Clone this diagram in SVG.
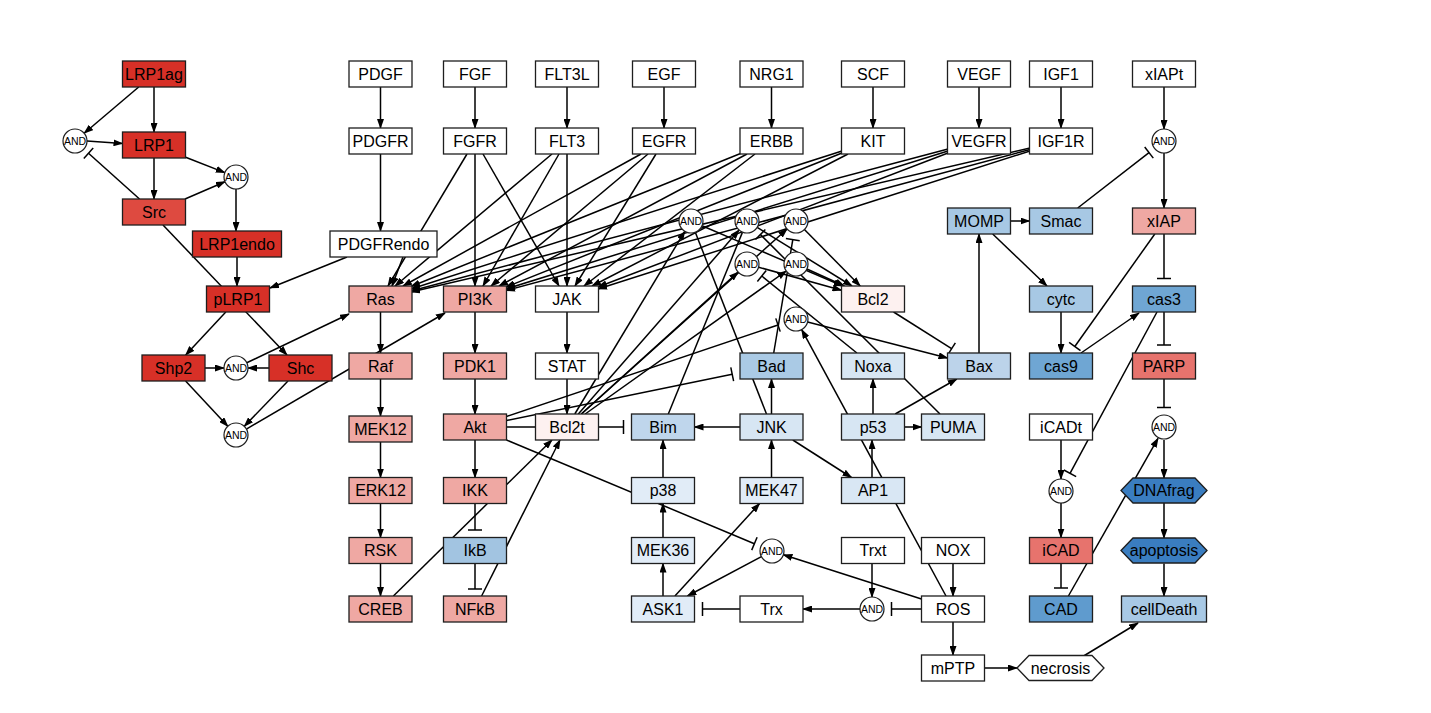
<svg xmlns="http://www.w3.org/2000/svg" width="1431" height="713" viewBox="0 0 1431 713">
<defs>
<style>
.b{stroke:#1e1e1e;stroke-width:1.3}
text{font-family:"Liberation Sans",Arial,sans-serif;font-size:16px;text-anchor:middle;fill:#000}
text.s{font-size:10.5px}
.c{fill:#fff;stroke:#1e1e1e;stroke-width:1.2}
#E line{stroke:#000;stroke-width:1.5;fill:none}
#E line.a{marker-end:url(#arr)}
#E line.t{marker-end:url(#tee)}
.w{fill:#fff}.r{fill:#d73027}.rs{fill:#de4a40}.lr{fill:#efa8a3}.mr{fill:#e7736d}.pk{fill:#fdf1f0}
.bim{fill:#bfd6ec}.bad{fill:#aacae5}.ikb{fill:#a2c4e1}.mo{fill:#a7c8e4}.c3{fill:#6fa6d3}.cad{fill:#5f9bce}
.dk{fill:#3a7dc0}.cd{fill:#a8c9e5}.bax{fill:#bcd3ea}.lb{fill:#d7e6f3}.vl{fill:#e1ecf7}.ap{fill:#d9e7f4}
</style>
<marker id="arr" viewBox="0 0 10 7" refX="9" refY="3.5" markerWidth="10" markerHeight="7" orient="auto" markerUnits="userSpaceOnUse"><path d="M0,0 L10,3.5 L0,7 z" fill="#000"/></marker>
<marker id="tee" viewBox="-2 -8 4 16" refX="0" refY="0" markerWidth="4" markerHeight="16" orient="auto" markerUnits="userSpaceOnUse"><path d="M0,-7 L0,7" stroke="#000" stroke-width="1.5"/></marker>
</defs>
<rect width="1431" height="713" fill="#fff"/>
<g id="E">
<!-- left cluster -->
<line class="a" x1="138.7" y1="87" x2="84.2" y2="133.2"/>
<line class="a" x1="154" y1="87" x2="154" y2="132"/>
<line class="a" x1="87" y1="141" x2="122.5" y2="143.5"/>
<line class="t" x1="139.5" y1="199" x2="88.5" y2="153.2"/>
<line class="a" x1="154" y1="158" x2="154" y2="199"/>
<line class="a" x1="185" y1="157" x2="224.8" y2="172.6"/>
<line class="a" x1="185" y1="199" x2="225" y2="181.7"/>
<line class="a" x1="236" y1="189" x2="236" y2="231"/>
<line class="a" x1="237" y1="257" x2="237" y2="286"/>
<line class="a" x1="163" y1="225" x2="287" y2="355"/>
<line class="a" x1="225.8" y1="312" x2="185.7" y2="355"/>
<line class="a" x1="205" y1="368" x2="224" y2="368"/>
<line class="a" x1="269" y1="368" x2="248" y2="368"/>
<line class="a" x1="246.8" y1="362.8" x2="349" y2="314"/>
<line class="a" x1="185.6" y1="381" x2="227.8" y2="426.2"/>
<line class="a" x1="288" y1="381" x2="244.3" y2="426.3"/>
<line class="a" x1="246.4" y1="429.1" x2="445" y2="313"/>
<!-- top -->
<line class="a" x1="380.5" y1="87" x2="380.5" y2="128"/>
<line class="a" x1="475" y1="87" x2="475" y2="128"/>
<line class="a" x1="567" y1="87" x2="567" y2="128"/>
<line class="a" x1="664" y1="87" x2="664" y2="128"/>
<line class="a" x1="771.5" y1="87" x2="771.5" y2="128"/>
<line class="a" x1="873" y1="87" x2="873" y2="128"/>
<line class="a" x1="979" y1="87" x2="979" y2="128"/>
<line class="a" x1="1061" y1="87" x2="1061" y2="128"/>
<line class="a" x1="1164" y1="87" x2="1164" y2="129"/>
<line class="a" x1="380.5" y1="154" x2="380.5" y2="231"/>
<line class="a" x1="403" y1="257" x2="392" y2="286"/>
<line class="a" x1="347" y1="257" x2="270" y2="288"/>
<!-- receptors -->
<line class="a" x1="467" y1="154" x2="388" y2="286"/>
<line class="a" x1="475" y1="154" x2="475" y2="286"/>
<line class="a" x1="483" y1="154" x2="559" y2="286"/>
<line class="a" x1="552" y1="154" x2="395" y2="286"/>
<line class="a" x1="559" y1="154" x2="483" y2="286"/>
<line class="a" x1="567" y1="154" x2="567" y2="286"/>
<line class="a" x1="641" y1="154" x2="403" y2="286"/>
<line class="a" x1="648" y1="154" x2="491" y2="286"/>
<line class="a" x1="656" y1="154" x2="575" y2="286"/>
<line class="a" x1="740.5" y1="153.5" x2="411" y2="286.5"/>
<line class="a" x1="747" y1="154" x2="499" y2="286"/>
<line class="a" x1="755" y1="154" x2="584" y2="286"/>
<line class="a" x1="842" y1="151" x2="411" y2="289"/>
<line class="a" x1="842" y1="153" x2="506" y2="287"/>
<line class="a" x1="848" y1="154" x2="592" y2="286"/>
<line class="a" x1="948" y1="149" x2="411" y2="291"/>
<line class="a" x1="948" y1="151" x2="506" y2="289"/>
<line class="a" x1="948" y1="153" x2="598" y2="287"/>
<line class="a" x1="1030" y1="148" x2="411" y2="292"/>
<line class="a" x1="1030" y1="149.5" x2="506" y2="290.5"/>
<line class="a" x1="1030" y1="151" x2="598" y2="289"/>
<!-- pathway columns -->
<line class="a" x1="380.5" y1="312" x2="380.5" y2="353"/>
<line class="a" x1="380.5" y1="379" x2="380.5" y2="416"/>
<line class="a" x1="380.5" y1="442" x2="380.5" y2="477.5"/>
<line class="a" x1="380.5" y1="503.5" x2="380.5" y2="537.5"/>
<line class="a" x1="380.5" y1="563.5" x2="380.5" y2="596"/>
<line class="a" x1="475" y1="312" x2="475" y2="353"/>
<line class="a" x1="475" y1="379" x2="475" y2="414"/>
<line class="a" x1="475" y1="440" x2="475" y2="477.5"/>
<line class="t" x1="475" y1="503.5" x2="475" y2="530"/>
<line class="t" x1="475" y1="563.5" x2="475" y2="589"/>
<line class="a" x1="393.4" y1="596" x2="552" y2="440"/>
<line class="a" x1="481.6" y1="596" x2="560" y2="440"/>
<line class="a" x1="567" y1="312" x2="567" y2="353"/>
<line class="a" x1="567" y1="379" x2="567" y2="414"/>
<!-- Akt -->
<line class="t" x1="506.5" y1="427" x2="623.5" y2="427"/>
<line class="t" x1="506.5" y1="420.5" x2="732.2" y2="374.2"/>
<line class="t" x1="506.5" y1="416.5" x2="778" y2="325"/>
<line class="t" x1="506.5" y1="440" x2="754.4" y2="543.7"/>
<!-- Bcl2t to ANDs -->
<line class="a" x1="574.8" y1="414" x2="684.8" y2="231.3"/>
<line class="a" x1="578.3" y1="414" x2="739.1" y2="230.1"/>
<line class="a" x1="581.4" y1="414" x2="787.1" y2="229"/>
<line class="a" x1="581.3" y1="414" x2="738.1" y2="272.1"/>
<line class="a" x1="585.2" y1="414" x2="786.2" y2="271"/>
<!-- ANDs to Bcl2 -->
<line class="a" x1="702" y1="225.7" x2="842.7" y2="286"/>
<line class="a" x1="757.2" y1="227.3" x2="852" y2="286"/>
<line class="a" x1="804.4" y1="229.5" x2="860.2" y2="286"/>
<line class="a" x1="758.6" y1="267.2" x2="841.5" y2="290.3"/>
<line class="a" x1="806.9" y1="269" x2="844.4" y2="286"/>
<!-- inhibitors of ANDs -->
<line x1="766.5" y1="414" x2="695.3" y2="232.2"/>
<line x1="668.3" y1="414" x2="742.5" y2="232.1"/>
<line class="t" x1="940" y1="414" x2="760.4" y2="234.5"/>
<line class="t" x1="773.7" y1="353" x2="792.8" y2="239.7"/>
<line class="t" x1="856.9" y1="353" x2="761.8" y2="276"/>
<!-- Bax/MOMP -->
<line class="a" x1="807.6" y1="322" x2="947.5" y2="358"/>
<line class="t" x1="893.6" y1="312" x2="951.6" y2="348.7"/>
<line class="a" x1="895.2" y1="414" x2="956.8" y2="379"/>
<line class="a" x1="979" y1="353" x2="979" y2="234"/>
<line class="a" x1="1010.5" y1="221" x2="1029.5" y2="221"/>
<line class="a" x1="992.7" y1="234" x2="1047" y2="286"/>
<line class="t" x1="1077.7" y1="208" x2="1149" y2="152.6"/>
<line class="a" x1="1164" y1="153" x2="1164" y2="208"/>
<line class="t" x1="1164" y1="234" x2="1164" y2="278.5"/>
<line class="t" x1="1154.8" y1="234" x2="1074.8" y2="346.5"/>
<line class="a" x1="1061" y1="312" x2="1061" y2="353"/>
<line class="a" x1="1081" y1="353" x2="1139" y2="313"/>
<line class="t" x1="1164" y1="312" x2="1164" y2="345"/>
<line class="t" x1="1164" y1="379" x2="1164" y2="407.5"/>
<line class="t" x1="1157" y1="312" x2="1070" y2="473.3"/>
<line class="a" x1="1061" y1="440" x2="1061" y2="479"/>
<line class="a" x1="1061" y1="503" x2="1061" y2="537.5"/>
<line class="t" x1="1061" y1="563.5" x2="1061" y2="588"/>
<line class="a" x1="1068.4" y1="596" x2="1158" y2="438.4"/>
<line class="a" x1="1164" y1="440" x2="1164" y2="478"/>
<line class="a" x1="1164" y1="503" x2="1164" y2="538"/>
<line class="a" x1="1164" y1="563.5" x2="1164" y2="596"/>
<line class="a" x1="1082" y1="657" x2="1138" y2="623"/>
<!-- lower middle -->
<line class="a" x1="984.5" y1="668" x2="1017" y2="668"/>
<line class="a" x1="953" y1="622" x2="953" y2="655"/>
<line class="a" x1="953" y1="563.5" x2="953" y2="596"/>
<line class="t" x1="921.5" y1="609" x2="891.5" y2="609"/>
<line class="a" x1="872" y1="563.5" x2="872" y2="597"/>
<line class="a" x1="860" y1="609" x2="803" y2="609"/>
<line class="t" x1="740" y1="609" x2="702.5" y2="609"/>
<line class="a" x1="921.5" y1="599" x2="783.4" y2="554.7"/>
<line class="a" x1="761.4" y1="556.6" x2="687.4" y2="596"/>
<line class="a" x1="663" y1="596" x2="663" y2="563.5"/>
<line class="a" x1="674.9" y1="596" x2="759.6" y2="503.5"/>
<line class="a" x1="663" y1="537.5" x2="663" y2="503.5"/>
<line class="a" x1="663" y1="477.5" x2="663" y2="440"/>
<line class="a" x1="771.5" y1="477.5" x2="771.5" y2="440"/>
<line class="a" x1="740" y1="427" x2="694.5" y2="427"/>
<line class="a" x1="771.5" y1="414" x2="771.5" y2="379"/>
<line class="a" x1="792.8" y1="440" x2="851.5" y2="477.5"/>
<line class="a" x1="872" y1="477.5" x2="872" y2="440"/>
<line class="a" x1="946" y1="596" x2="801.7" y2="329.6"/>
<line class="a" x1="873" y1="414" x2="873" y2="379"/>
<line class="a" x1="904.5" y1="427" x2="921.5" y2="427"/>
</g>
<g id="n-LRP1ag"><rect class="b r" x="122.5" y="61" width="63" height="26"/><text x="154" y="79.7">LRP1ag</text></g>
<g id="n-LRP1"><rect class="b r" x="122.5" y="132" width="63" height="26"/><text x="154" y="150.7">LRP1</text></g>
<g id="n-Src"><rect class="b rs" x="122.5" y="199" width="63" height="26"/><text x="154" y="217.7">Src</text></g>
<g id="n-LRP1endo"><rect class="b r" x="192.5" y="231" width="89" height="26"/><text x="237" y="249.7">LRP1endo</text></g>
<g id="n-pLRP1"><rect class="b r" x="206.5" y="286" width="63" height="26"/><text x="238" y="304.7">pLRP1</text></g>
<g id="n-Shp2"><rect class="b r" x="142" y="355" width="63" height="26"/><text x="173.5" y="373.7">Shp2</text></g>
<g id="n-Shc"><rect class="b r" x="269" y="355" width="63" height="26"/><text x="300.5" y="373.7">Shc</text></g>
<g id="n-PDGF"><rect class="b w" x="349" y="61" width="63" height="26"/><text x="380.5" y="79.7">PDGF</text></g>
<g id="n-FGF"><rect class="b w" x="443.5" y="61" width="63" height="26"/><text x="475" y="79.7">FGF</text></g>
<g id="n-FLT3L"><rect class="b w" x="535.5" y="61" width="63" height="26"/><text x="567" y="79.7">FLT3L</text></g>
<g id="n-EGF"><rect class="b w" x="632.5" y="61" width="63" height="26"/><text x="664" y="79.7">EGF</text></g>
<g id="n-NRG1"><rect class="b w" x="740" y="61" width="63" height="26"/><text x="771.5" y="79.7">NRG1</text></g>
<g id="n-SCF"><rect class="b w" x="841.5" y="61" width="63" height="26"/><text x="873" y="79.7">SCF</text></g>
<g id="n-VEGF"><rect class="b w" x="947.5" y="61" width="63" height="26"/><text x="979" y="79.7">VEGF</text></g>
<g id="n-IGF1"><rect class="b w" x="1029.5" y="61" width="63" height="26"/><text x="1061" y="79.7">IGF1</text></g>
<g id="n-xIAPt"><rect class="b w" x="1132.5" y="61" width="63" height="26"/><text x="1164" y="79.7">xIAPt</text></g>
<g id="n-PDGFR"><rect class="b w" x="349" y="128" width="63" height="26"/><text x="380.5" y="146.7">PDGFR</text></g>
<g id="n-FGFR"><rect class="b w" x="443.5" y="128" width="63" height="26"/><text x="475" y="146.7">FGFR</text></g>
<g id="n-FLT3"><rect class="b w" x="535.5" y="128" width="63" height="26"/><text x="567" y="146.7">FLT3</text></g>
<g id="n-EGFR"><rect class="b w" x="632.5" y="128" width="63" height="26"/><text x="664" y="146.7">EGFR</text></g>
<g id="n-ERBB"><rect class="b w" x="740" y="128" width="63" height="26"/><text x="771.5" y="146.7">ERBB</text></g>
<g id="n-KIT"><rect class="b w" x="841.5" y="128" width="63" height="26"/><text x="873" y="146.7">KIT</text></g>
<g id="n-VEGFR"><rect class="b w" x="947.5" y="128" width="63" height="26"/><text x="979" y="146.7">VEGFR</text></g>
<g id="n-IGF1R"><rect class="b w" x="1029.5" y="128" width="63" height="26"/><text x="1061" y="146.7">IGF1R</text></g>
<g id="n-PDGFRendo"><rect class="b w" x="330" y="231" width="107" height="26"/><text x="383.5" y="249.7">PDGFRendo</text></g>
<g id="n-MOMP"><rect class="b mo" x="947.5" y="208" width="63" height="26"/><text x="979" y="226.7">MOMP</text></g>
<g id="n-Smac"><rect class="b mo" x="1029.5" y="208" width="63" height="26"/><text x="1061" y="226.7">Smac</text></g>
<g id="n-xIAP"><rect class="b lr" x="1132.5" y="208" width="63" height="26"/><text x="1164" y="226.7">xIAP</text></g>
<g id="n-Ras"><rect class="b lr" x="349" y="286" width="63" height="26"/><text x="380.5" y="304.7">Ras</text></g>
<g id="n-PI3K"><rect class="b lr" x="443.5" y="286" width="63" height="26"/><text x="475" y="304.7">PI3K</text></g>
<g id="n-JAK"><rect class="b w" x="535.5" y="286" width="63" height="26"/><text x="567" y="304.7">JAK</text></g>
<g id="n-Bcl2"><rect class="b pk" x="841.5" y="286" width="63" height="26"/><text x="873" y="304.7">Bcl2</text></g>
<g id="n-cytc"><rect class="b mo" x="1029.5" y="286" width="63" height="26"/><text x="1061" y="304.7">cytc</text></g>
<g id="n-cas3"><rect class="b c3" x="1132.5" y="286" width="63" height="26"/><text x="1164" y="304.7">cas3</text></g>
<g id="n-Raf"><rect class="b lr" x="349" y="353" width="63" height="26"/><text x="380.5" y="371.7">Raf</text></g>
<g id="n-PDK1"><rect class="b lr" x="443.5" y="353" width="63" height="26"/><text x="475" y="371.7">PDK1</text></g>
<g id="n-STAT"><rect class="b w" x="535.5" y="353" width="63" height="26"/><text x="567" y="371.7">STAT</text></g>
<g id="n-Bad"><rect class="b bad" x="740" y="353" width="63" height="26"/><text x="771.5" y="371.7">Bad</text></g>
<g id="n-Noxa"><rect class="b lb" x="841.5" y="353" width="63" height="26"/><text x="873" y="371.7">Noxa</text></g>
<g id="n-Bax"><rect class="b bax" x="947.5" y="353" width="63" height="26"/><text x="979" y="371.7">Bax</text></g>
<g id="n-cas9"><rect class="b c3" x="1029.5" y="353" width="63" height="26"/><text x="1061" y="371.7">cas9</text></g>
<g id="n-PARP"><rect class="b mr" x="1132.5" y="353" width="63" height="26"/><text x="1164" y="371.7">PARP</text></g>
<g id="n-MEK12"><rect class="b lr" x="349" y="416" width="63" height="26"/><text x="380.5" y="434.7">MEK12</text></g>
<g id="n-Akt"><rect class="b lr" x="443.5" y="414" width="63" height="26"/><text x="475" y="432.7">Akt</text></g>
<g id="n-Bcl2t"><rect class="b pk" x="535.5" y="414" width="63" height="26"/><text x="567" y="432.7">Bcl2t</text></g>
<g id="n-Bim"><rect class="b bim" x="631.5" y="414" width="63" height="26"/><text x="663" y="432.7">Bim</text></g>
<g id="n-JNK"><rect class="b lb" x="740" y="414" width="63" height="26"/><text x="771.5" y="432.7">JNK</text></g>
<g id="n-p53"><rect class="b lb" x="841.5" y="414" width="63" height="26"/><text x="873" y="432.7">p53</text></g>
<g id="n-PUMA"><rect class="b lb" x="921.5" y="414" width="63" height="26"/><text x="953" y="432.7">PUMA</text></g>
<g id="n-iCADt"><rect class="b w" x="1029.5" y="414" width="63" height="26"/><text x="1061" y="432.7">iCADt</text></g>
<g id="n-ERK12"><rect class="b lr" x="349" y="477.5" width="63" height="26"/><text x="380.5" y="496.2">ERK12</text></g>
<g id="n-IKK"><rect class="b lr" x="443.5" y="477.5" width="63" height="26"/><text x="475" y="496.2">IKK</text></g>
<g id="n-p38"><rect class="b vl" x="631.5" y="477.5" width="63" height="26"/><text x="663" y="496.2">p38</text></g>
<g id="n-MEK47"><rect class="b vl" x="740" y="477.5" width="63" height="26"/><text x="771.5" y="496.2">MEK47</text></g>
<g id="n-AP1"><rect class="b ap" x="841.5" y="477.5" width="63" height="26"/><text x="873" y="496.2">AP1</text></g>
<g id="n-RSK"><rect class="b lr" x="349" y="537.5" width="63" height="26"/><text x="380.5" y="556.2">RSK</text></g>
<g id="n-IkB"><rect class="b ikb" x="443.5" y="537.5" width="63" height="26"/><text x="475" y="556.2">IkB</text></g>
<g id="n-MEK36"><rect class="b vl" x="631.5" y="537.5" width="63" height="26"/><text x="663" y="556.2">MEK36</text></g>
<g id="n-Trxt"><rect class="b w" x="841.5" y="537.5" width="63" height="26"/><text x="873" y="556.2">Trxt</text></g>
<g id="n-NOX"><rect class="b w" x="921.5" y="537.5" width="63" height="26"/><text x="953" y="556.2">NOX</text></g>
<g id="n-iCAD"><rect class="b mr" x="1029.5" y="537.5" width="63" height="26"/><text x="1061" y="556.2">iCAD</text></g>
<g id="n-CREB"><rect class="b lr" x="349" y="596" width="63" height="26"/><text x="380.5" y="614.7">CREB</text></g>
<g id="n-NFkB"><rect class="b lr" x="443.5" y="596" width="63" height="26"/><text x="475" y="614.7">NFkB</text></g>
<g id="n-ASK1"><rect class="b vl" x="631.5" y="596" width="63" height="26"/><text x="663" y="614.7">ASK1</text></g>
<g id="n-Trx"><rect class="b w" x="740" y="596" width="63" height="26"/><text x="771.5" y="614.7">Trx</text></g>
<g id="n-ROS"><rect class="b w" x="921.5" y="596" width="63" height="26"/><text x="953" y="614.7">ROS</text></g>
<g id="n-CAD"><rect class="b cad" x="1029.5" y="596" width="63" height="26"/><text x="1061" y="614.7">CAD</text></g>
<g id="n-cellDeath"><rect class="b cd" x="1121.5" y="596" width="85" height="26"/><text x="1164" y="614.7">cellDeath</text></g>
<g id="n-mPTP"><rect class="b w" x="921.5" y="655" width="63" height="26"/><text x="953" y="673.7">mPTP</text></g>
<g id="n-DNAfrag"><polygon class="b dk" points="1121,490.5 1133,478 1195,478 1207,490.5 1195,503 1133,503"/><text x="1164" y="496.2">DNAfrag</text></g>
<g id="n-apoptosis"><polygon class="b dk" points="1121,550.5 1133,538 1195,538 1207,550.5 1195,563 1133,563"/><text x="1164" y="556.2">apoptosis</text></g>
<g id="n-necrosis"><polygon class="b w" points="1017,668 1029,655.5 1092,655.5 1104,668 1092,680.5 1029,680.5"/><text x="1060.5" y="673.7">necrosis</text></g>
<g id="a-L1"><circle class="c" cx="75" cy="141" r="12"/><text class="s" x="75" y="144.8">AND</text></g>
<g id="a-R"><circle class="c" cx="236" cy="177" r="12"/><text class="s" x="236" y="180.8">AND</text></g>
<g id="a-M"><circle class="c" cx="236" cy="368" r="12"/><text class="s" x="236" y="371.8">AND</text></g>
<g id="a-B"><circle class="c" cx="236" cy="435" r="12"/><text class="s" x="236" y="438.8">AND</text></g>
<g id="a-X"><circle class="c" cx="1164" cy="141" r="12"/><text class="s" x="1164" y="144.8">AND</text></g>
<g id="a-1"><circle class="c" cx="691" cy="221" r="12"/><text class="s" x="691" y="224.8">AND</text></g>
<g id="a-2"><circle class="c" cx="747" cy="221" r="12"/><text class="s" x="747" y="224.8">AND</text></g>
<g id="a-3"><circle class="c" cx="796" cy="221" r="12"/><text class="s" x="796" y="224.8">AND</text></g>
<g id="a-4"><circle class="c" cx="747" cy="264" r="12"/><text class="s" x="747" y="267.8">AND</text></g>
<g id="a-5"><circle class="c" cx="796" cy="264" r="12"/><text class="s" x="796" y="267.8">AND</text></g>
<g id="a-6"><circle class="c" cx="796" cy="319" r="12"/><text class="s" x="796" y="322.8">AND</text></g>
<g id="a-P"><circle class="c" cx="1164" cy="427" r="12"/><text class="s" x="1164" y="430.8">AND</text></g>
<g id="a-I"><circle class="c" cx="1061" cy="491" r="12"/><text class="s" x="1061" y="494.8">AND</text></g>
<g id="a-A"><circle class="c" cx="772" cy="551" r="12"/><text class="s" x="772" y="554.8">AND</text></g>
<g id="a-T"><circle class="c" cx="872" cy="609" r="12"/><text class="s" x="872" y="612.8">AND</text></g>
</svg>
